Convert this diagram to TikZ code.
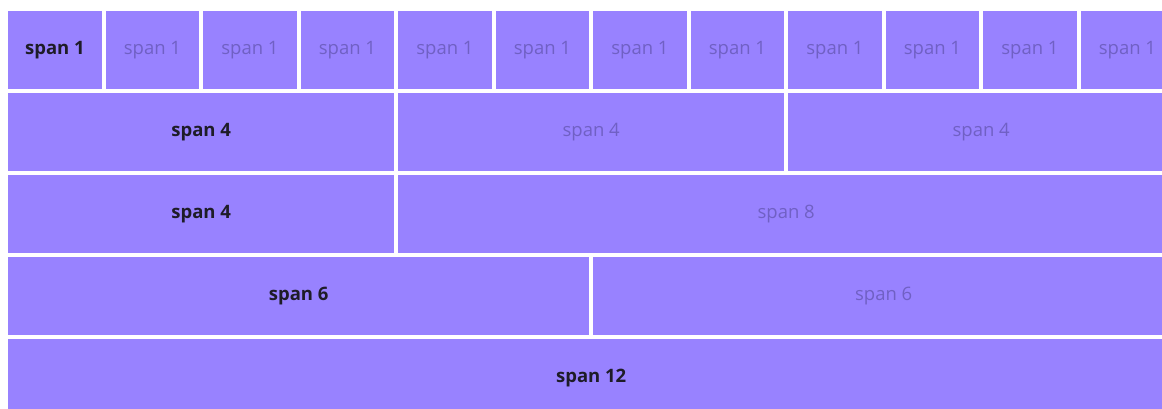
\documentclass[tikz,border=0pt]{standalone}
\usepackage{fontspec}
\setmainfont{Open Sans}
\usetikzlibrary{positioning}
\definecolor{cellfill}{RGB}{152,130,255}
\definecolor{dimtext}{RGB}{112,96,196}
\definecolor{darktext}{RGB}{30,28,40}

\begin{document}
\begin{tikzpicture}[x=1pt,y=-1pt]
\tikzstyle{C}=[fill=cellfill,anchor=north west,inner sep=0pt,minimum height=78pt,font=\fontsize{18.5}{20}\selectfont,text=dimtext]
\tikzstyle{B}=[C,text=darktext,font=\fontsize{18.5}{20}\selectfont\bfseries]
\useasboundingbox (0,0) rectangle (1162,409);
\fill[white] (0,0) rectangle (1162,409);
\clip (0,0) rectangle (1162,409);
% row 1: twelve single columns
\node[B,minimum width=93.5pt] (a0) at (8,11) {span 1};
\foreach \i in {1,...,11}
  \node[C,minimum width=93.5pt] (a\i) at (8+97.5*\i,11) {span 1};
% row 2
\node[B,minimum width=386pt] (b0) at (8,93) {span 4};
\node[C,minimum width=386pt] (b1) at (398,93) {span 4};
\node[C,minimum width=386pt] (b2) at (788,93) {span 4};
% row 3
\node[B,minimum width=386pt] (c0) at (8,175) {span 4};
\node[C,minimum width=776pt] (c1) at (398,175) {span 8};
% row 4
\node[B,minimum width=581pt] (d0) at (8,257) {span 6};
\node[C,minimum width=581pt] (d1) at (593,257) {span 6};
% row 5
\node[B,minimum width=1166pt] (e0) at (8,339) {span 12};
\end{tikzpicture}
\end{document}
